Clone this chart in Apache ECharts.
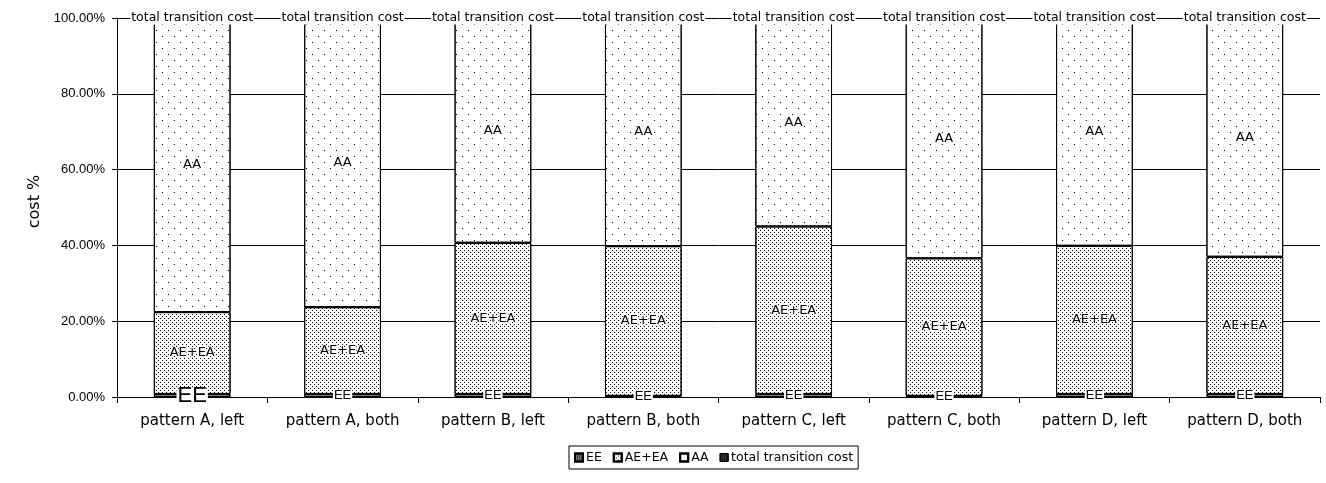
<!DOCTYPE html>
<html>
<head>
<meta charset="utf-8">
<script src="https://cdn.jsdelivr.net/npm/echarts@6/dist/echarts.min.js"></script>
<style>
html,body{margin:0;padding:0;background:#fff;}
#chart{width:1326px;height:483px;}
</style>
</head>
<body>
<div id="chart"></div>
<script>
const categories = ['pattern A, left','pattern A, both','pattern B, left','pattern B, both','pattern C, left','pattern C, both','pattern D, left','pattern D, both'];
const eeValues = [0.8, 0.8, 0.8, 0.3, 0.8, 0.3, 0.8, 0.8];
const aeeaValues = [21.6, 22.9, 39.9, 39.5, 44.2, 36.3, 39.1, 36.2];
const aaValues = [77.6, 76.3, 59.3, 60.2, 55.0, 63.4, 60.1, 63.0];
const totalValues = [100, 100, 100, 100, 100, 100, 100, 100];
const yTicks = [0, 20, 40, 60, 80, 100];

const FONT = 'Liberation Sans';
const WFONT = 'DejaVu Sans';
const decalAA = {symbol:'rect', symbolSize:1, color:'#000', dashArrayX:[[1,11],[0,6,1,5]], dashArrayY:[1,5], rotation:0};
const decalAE = {symbol:'rect', symbolSize:1, color:'#000', dashArrayX:[[1,3],[0,2,1,1]], dashArrayY:[1,1], rotation:0};
const decalEE = {symbol:'rect', symbolSize:1, color:'#000', dashArrayX:[1,1], dashArrayY:[1,1], rotation:0};

const chart = echarts.init(document.getElementById('chart'));
const baseBar = {
  type:'bar', stack:'cost', barWidth:'51%'
};
chart.setOption({
  animation:false,
  aria:{enabled:true, decal:{show:true}},
  grid:{left:117, right:6, top:18, bottom:86, containLabel:false},
  legend:{
    left:569, top:446,
    orient:'horizontal',
    backgroundColor:'#fff', borderColor:'#000', borderWidth:1,
    padding:[5,5], itemGap:11, itemWidth:8, itemHeight:8,
    textStyle:{fontFamily:WFONT, fontSize:12.5, color:'#000', padding:[0,0,0,-2]},
    data:[
      {name:'EE', icon:'rect'},
      {name:'AE+EA', icon:'rect'},
      {name:'AA', icon:'rect'},
      {name:'total transition cost', icon:'rect', itemStyle:{color:'#333', decal:decalEE, borderColor:'#000', borderWidth:1}}
    ]
  },
  xAxis:{
    type:'category', data:categories, boundaryGap:true,
    axisLine:{lineStyle:{color:'#000', width:1}},
    axisTick:{show:true, length:6, alignWithLabel:false, lineStyle:{color:'#000'}},
    axisLabel:{fontFamily:WFONT, fontSize:15, color:'#000', margin:17, interval:0}
  },
  yAxis:{
    type:'value', min:yTicks[0], max:yTicks[yTicks.length-1], interval:20,
    name:'cost %', nameLocation:'middle', nameGap:74, nameRotate:90,
    nameTextStyle:{fontFamily:WFONT, fontSize:16, color:'#000', padding:[0,0,0,12]},
    axisLine:{show:true, lineStyle:{color:'#000', width:1}},
    axisTick:{show:true, length:5, lineStyle:{color:'#000'}},
    axisLabel:{fontFamily:FONT, fontSize:13, color:'#000', margin:12, formatter: v => v.toFixed(2) + '%'},
    splitLine:{show:true, lineStyle:{color:'#000', width:1}}
  },
  series:[
    Object.assign({}, baseBar, {
      name:'EE',
      data: eeValues.map((v,i) => ({value:v, label:{fontSize: i===0 ? 22 : 13}})),
      itemStyle:{color:'#777', decal:decalEE, borderColor:'#000', borderWidth:1},
      label:{show:true, position:'inside', formatter:'EE', fontFamily:FONT, color:'#000', backgroundColor:'#fff', padding:[0,1], lineHeight:13}
    }),
    Object.assign({}, baseBar, {
      name:'AE+EA', data:aeeaValues,
      itemStyle:{color:'#fff', decal:decalAE, borderColor:'#000', borderWidth:1},
      label:{show:true, position:'inside', formatter:'AE+EA', fontFamily:WFONT, fontSize:13, color:'#000', textBorderColor:'#fff', textBorderWidth:2}
    }),
    Object.assign({}, baseBar, {
      name:'AA', data:aaValues,
      itemStyle:{color:'#fff', decal:decalAA, borderColor:'#000', borderWidth:1},
      label:{show:true, position:'inside', formatter:'AA', fontFamily:WFONT, fontSize:13, color:'#000', textBorderColor:'#fff', textBorderWidth:2}
    }),
    {
      name:'total transition cost', type:'line', data:totalValues,
      symbol:'circle', symbolSize:1, showSymbol:true,
      itemStyle:{color:'rgba(0,0,0,0)'},
      lineStyle:{width:0, opacity:0},
      z:10,
      label:{show:true, position:'inside', formatter:'total transition cost', fontFamily:WFONT, fontSize:12.5, color:'#000', backgroundColor:'#fff', padding:[0,1]}
    }
  ]
});
</script>
</body>
</html>
